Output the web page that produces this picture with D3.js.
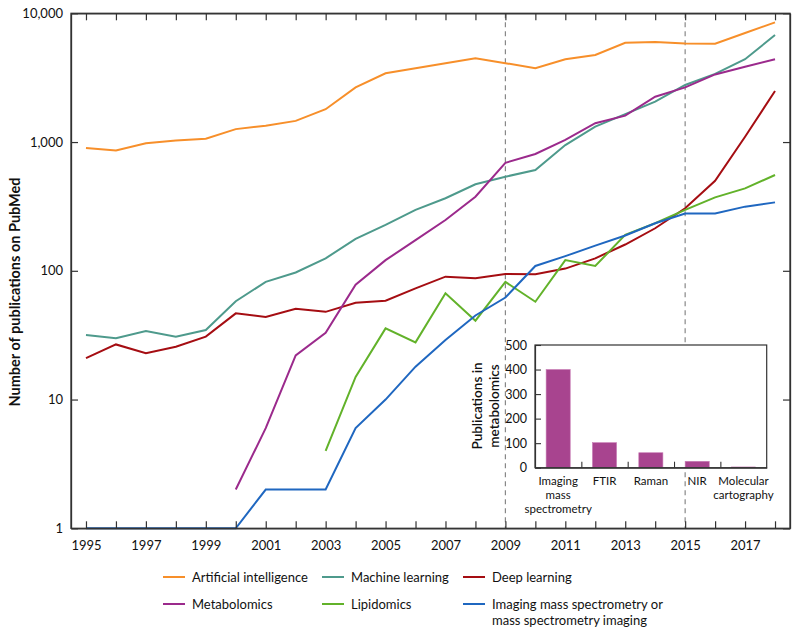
<!DOCTYPE html>
<html><head><meta charset="utf-8">
<script src="https://cdn.jsdelivr.net/npm/d3@7/dist/d3.min.js"></script>
<style>
body{margin:0;background:#fff;}
svg{font-family:Lato,"Open Sans",sans-serif;}
</style></head><body>
<svg id="c" width="800" height="638"></svg>
<script>
const years = d3.range(1995, 2019);
const seriesNames = ["Artificial intelligence","Machine learning","Deep learning","Metabolomics","Lipidomics","Imaging mass spectrometry or mass spectrometry imaging"];
const seriesColors = ["#f78f2a","#4e9a8c","#a50d12","#9b2a8c","#62b22a","#1f67c0"];
const artificialIntelligence = [900,860,980,1030,1060,1260,1340,1460,1800,2660,3420,3740,4090,4470,4100,3740,4390,4740,5910,5980,5820,5810,7030,8500];
const machineLearning = [31.7,29.9,34,30.8,34.7,58,82,97,125,177,227,297,366,470,538,607,948,1316,1650,2057,2775,3380,4400,6780];
const deepLearning = [21,26.8,22.9,25.7,30.8,46.7,43.8,50.8,48,56.5,58.6,73,90,87.4,94.4,94,104,125,160,214,306,500,1100,2490];
const metabolomics = [null,null,null,null,null,2,6,22,33,78,121,173,248,376,690,808,1038,1400,1603,2250,2660,3350,3850,4390];
const lipidomics = [null,null,null,null,null,null,null,null,4,15,35.7,27.8,67,41,82,57.5,121,109,190,234,297,372,437,555];
const imagingMS = [1,1,1,1,1,1,2,2,2,6,10,18,29,45,62,109,130,157,188,234,279,279,315,340];
const seriesValues = [artificialIntelligence,machineLearning,deepLearning,metabolomics,lipidomics,imagingMS];
const xTickLabels = [1995,1997,1999,2001,2003,2005,2007,2009,2011,2013,2015,2017];
const yTickValues = [1,10,100,1000,10000];
const markerYears = [2009,2015];
const insetCategories = ["Imaging mass spectrometry","FTIR","Raman","NIR","Molecular cartography"];
const insetLabelLines = [["Imaging","mass","spectrometry"],["FTIR"],["Raman"],["NIR"],["Molecular","cartography"]];
const insetValues = [400,102,61,26,3];
const insetTicks = [0,100,200,300,400,500];

const svg = d3.select("#c");
const L=71,R=790,T=13.3,B=528.3;
const x = d3.scaleLinear().domain([1994.5,2018.5]).range([L,R]);
const y = d3.scaleLog().domain([1,10000]).range([B,T]);
const axisCol="#333";

// dashed markers
svg.selectAll(".mk").data(markerYears).enter().append("line")
 .attr("x1",d=>x(d)).attr("x2",d=>x(d)).attr("y1",T).attr("y2",B)
 .attr("stroke","#888").attr("stroke-width",1.2).attr("stroke-dasharray","5,4");

// lines
const line = d3.line().defined(d=>d[1]!=null).x(d=>x(d[0])).y(d=>y(d[1]));
seriesValues.forEach((vals,i)=>{
  svg.append("path").datum(years.map((yr,j)=>[yr,vals[j]]))
   .attr("d",line).attr("fill","none").attr("stroke",seriesColors[i]).attr("stroke-width",2);
});

// axes
const fmt = d3.format(",");
const gB = svg.append("g").attr("transform",`translate(0,${B})`)
 .call(d3.axisBottom(x).tickValues(years).tickSizeInner(-7).tickSizeOuter(0).tickFormat(d=>xTickLabels.includes(d)?d:""));
const gT = svg.append("g").attr("transform",`translate(0,${T})`)
 .call(d3.axisTop(x).tickValues(years).tickSizeInner(-7).tickSizeOuter(0).tickFormat(""));
const gL = svg.append("g").attr("transform",`translate(${L},0)`)
 .call(d3.axisLeft(y).tickValues(yTickValues).tickSizeInner(-7).tickSizeOuter(0).tickFormat(fmt));
const gR = svg.append("g").attr("transform",`translate(${R},0)`)
 .call(d3.axisRight(y).tickValues(yTickValues).tickSizeInner(-7).tickSizeOuter(0).tickFormat(""));
[gB,gT,gL,gR].forEach(g=>{
  g.select(".domain").attr("stroke",axisCol).attr("stroke-width",1.3);
  g.selectAll(".tick line").attr("stroke",axisCol).attr("stroke-width",1.2);
  g.selectAll("text").attr("fill","#111").style("font-size","13px").style("font-family","Lato, sans-serif");
});
gB.selectAll("text").attr("dy","0.71em").attr("y",12);
gL.selectAll("text").attr("x",-8);
svg.append("rect").attr("x",L).attr("y",T).attr("width",R-L).attr("height",B-T)
 .attr("fill","none").attr("stroke",axisCol).attr("stroke-width",1.3);

svg.append("text").attr("transform","translate(20,292) rotate(-90)")
 .attr("text-anchor","middle").style("font-size","14.5px").style("font-weight","bold")
 .attr("fill","#111").text("Number of publications on PubMed");

// inset
const iL=535,iR=766.7,iT=345,iB=467.7;
svg.append("rect").attr("x",iL).attr("y",iT).attr("width",iR-iL).attr("height",iB-iT).attr("fill","#fff");
const xb = d3.scaleBand().domain(insetCategories).range([iL,iR]).paddingInner(0.48).paddingOuter(0.24);
const yb = d3.scaleLinear().domain([0,500]).range([iB,iT]);
svg.selectAll(".bar").data(insetValues).enter().append("rect")
 .attr("x",(d,i)=>xb(insetCategories[i])).attr("width",xb.bandwidth())
 .attr("y",d=>yb(d)).attr("height",d=>iB-yb(d))
 .attr("fill","#a8448f").attr("stroke","#c77ab4").attr("stroke-width",0.6);
const giL = svg.append("g").attr("transform",`translate(${iL},0)`)
 .call(d3.axisLeft(yb).tickValues(insetTicks).tickSizeInner(-6).tickSizeOuter(0));
const giB = svg.append("g").attr("transform",`translate(0,${iB})`)
 .call(d3.axisBottom(d3.scaleLinear().domain([0,5]).range([iL,iR])).tickValues([1,2,3,4]).tickSizeInner(-6).tickSizeOuter(0).tickFormat(""));
[giL,giB].forEach(g=>{
  g.select(".domain").attr("stroke",axisCol).attr("stroke-width",1.2);
  g.selectAll(".tick line").attr("stroke",axisCol).attr("stroke-width",1.1);
  g.selectAll("text").attr("fill","#111").style("font-size","12.5px").style("font-family","Lato, sans-serif");
});
giL.selectAll("text").attr("x",-8);
svg.append("rect").attr("x",iL).attr("y",iT).attr("width",iR-iL).attr("height",iB-iT)
 .attr("fill","none").attr("stroke",axisCol).attr("stroke-width",1.2);
insetLabelLines.forEach((lines,i)=>{
  const cx = xb(insetCategories[i])+xb.bandwidth()/2;
  lines.forEach((s,k)=>svg.append("text").attr("text-anchor","middle").attr("fill","#111")
    .style("font-size","11.5px").attr("x",cx).attr("y",iB+17+k*14).text(s));
});
const yl = svg.append("text").attr("transform","translate(482,406) rotate(-90)")
 .attr("text-anchor","middle").attr("fill","#111").style("font-size","13.5px").style("font-weight","600");
yl.append("tspan").attr("x",0).attr("dy",0).text("Publications in");
yl.append("tspan").attr("x",0).attr("dy",16.5).text("metabolomics");

// legend
const legX=[163,322,463], legY=[577,604];
seriesNames.forEach((name,i)=>{
  const cx=legX[i%3], cy=legY[Math.floor(i/3)];
  svg.append("line").attr("x1",cx).attr("x2",cx+22).attr("y1",cy).attr("y2",cy)
   .attr("stroke",seriesColors[i]).attr("stroke-width",2);
  const t = svg.append("text").attr("x",cx+29).attr("y",cy+4.5).attr("fill","#111").style("font-size","13px");
  if(i===5){
    t.append("tspan").attr("x",cx+29).text("Imaging mass spectrometry or");
    t.append("tspan").attr("x",cx+29).attr("dy",16.5).text("mass spectrometry imaging");
  } else t.text(name);
});
</script></body></html>
